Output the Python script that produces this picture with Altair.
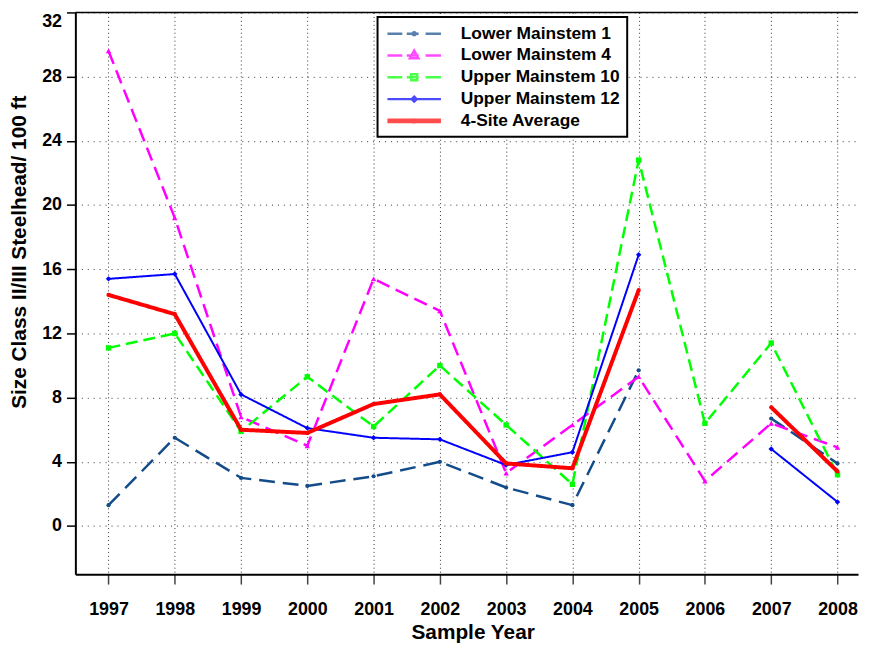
import altair as alt
import pandas as pd

years = list(range(1997, 2009))
series_names = ["Lower Mainstem 1", "Lower Mainstem 4", "Upper Mainstem 10",
                "Upper Mainstem 12", "4-Site Average"]
lower_mainstem_1 = [1.3, 5.5, 3.0, 2.5, 3.1, 4.0, 2.4, 1.3, 9.7, None, 6.7, 3.9]
lower_mainstem_4 = [29.6, 19.2, 6.8, 5.0, 15.4, 13.4, 3.3, 6.3, 9.3, 2.8, 6.4, 4.9]
upper_mainstem_10 = [11.1, 12.0, 5.9, 9.3, 6.2, 10.0, 6.3, 2.6, 22.8, 6.4, 11.4, 3.2]
upper_mainstem_12 = [15.4, 15.7, 8.2, 6.1, 5.5, 5.4, 3.8, 4.6, 16.9, None, 4.8, 1.5]
site_average = [14.4, 13.2, 6.0, 5.8, 7.6, 8.2, 3.9, 3.6, 14.7, None, 7.4, 3.4]
y_ticks = [0, 4, 8, 12, 16, 20, 24, 28, 32]

series_values = [lower_mainstem_1, lower_mainstem_4, upper_mainstem_10,
                 upper_mainstem_12, site_average]

colors = ["#134C88", "#FF00FF", "#00FF00", "#0000FF", "#FF0000"]
dashes = [[16, 8], [14, 7], [12, 6], [1, 0], [1, 0]]
widths = [2.5, 2.5, 2.5, 2, 4]
shapes = ["circle", "triangle-up", "square", "diamond", "circle"]
sizes = [18, 30, 30, 30, 18]

# legend symbol glyphs, drawn in pixel units around the symbol centre
SYM_PX = 17.0          # sqrt of the legend symbolSize
R = SYM_PX / 2.0       # Vega scales custom paths by sqrt(size)/2


def p(v):
    return f"{v / R:.4f}"


def dashed_line():
    segs = [(-27, -12), (-7.5, 4.5), (11.5, 27)]
    return "".join(f"M{p(a)},0H{p(b)}" for a, b in segs)


def dot(rad):
    return (f"M{p(-rad)},0A{p(rad)},{p(rad)} 0 1,0 {p(rad)},0"
            f"A{p(rad)},{p(rad)} 0 1,0 {p(-rad)},0")


legend_paths = [
    dashed_line() + dot(1.4),
    dashed_line() + f"M0,{p(-5)}L{p(4.3)},{p(2.7)}L{p(-4.3)},{p(2.7)}Z",
    dashed_line() + f"M{p(-3)},{p(-3)}H{p(3)}V{p(3)}H{p(-3)}Z",
    f"M{p(-27)},0H{p(27)}" + f"M0,{p(-2.5)}L{p(2.5)},0L0,{p(2.5)}L{p(-2.5)},0Z",
    f"M{p(-27)},{p(-1.1)}H{p(27)}M{p(-27)},{p(1.1)}H{p(27)}" + dot(1.4),
]

rows = []
for name, vals in zip(series_names, series_values):
    for yr, v in zip(years, vals):
        rows.append({"year": yr, "series": name, "value": v})
df = pd.DataFrame(rows)

FONT = "Liberation Sans"

x_enc = alt.X(
    "year:Q",
    scale=alt.Scale(domain=[1996.5, 2008.31], nice=False, zero=False),
    axis=alt.Axis(
        values=years, format="d", title="Sample Year",
        titleX=401, titleY=65, titleBaseline="alphabetic", titleAlign="center",
        grid=True, gridDash=[1, 3], gridColor="#333333", gridWidth=1,
        tickSize=10, tickColor="#444444", tickWidth=1.5,
        domainColor="black", domainWidth=2, labelPadding=17,
    ),
)
y_enc = alt.Y(
    "value:Q",
    scale=alt.Scale(domain=[-3, 32], nice=False, zero=False),
    axis=alt.Axis(
        values=y_ticks, title="Size Class II/III Steelhead/ 100 ft",
        titleX=-56, titleY=241.5, titleAngle=270, titleBaseline="middle",
        titleAlign="center", labelFlush=True,
        grid=True, gridDash=[1, 5], gridColor="#333333", gridWidth=1,
        tickSize=9, tickColor="black", tickWidth=1.5,
        domainColor="black", domainWidth=2, labelPadding=5,
    ),
)

layers = []
for i, name in enumerate(series_names):
    base = alt.Chart(df).transform_filter(alt.datum.series == name).encode(
        x=x_enc, y=y_enc,
    )
    layers.append(base.mark_line(color=colors[i], strokeDash=dashes[i],
                                 strokeWidth=widths[i],
                                 invalid="break-paths-show-domains"))
    layers.append(base.mark_point(color=colors[i], shape=shapes[i], filled=True,
                                  size=sizes[i], opacity=1,
                                  invalid="break-paths-show-domains"))

legend = alt.Legend(
    title=None, orient="none", legendX=305, legendY=4.5,
    symbolSize=SYM_PX * SYM_PX, symbolStrokeWidth=2.5, symbolOffset=20,
    labelFont=FONT, labelFontSize=17.5, labelFontWeight="bold", labelColor="black",
    labelOffset=37, labelLimit=400, padding=7, rowPadding=3, strokeColor="black",
    fillColor="white",
)
legend_layer = (
    alt.Chart(df).transform_filter("false")
    .mark_point(filled=False, strokeWidth=2.5)
    .encode(
        x=x_enc, y=y_enc,
        stroke=alt.Stroke("series:N", scale=alt.Scale(domain=series_names, range=colors),
                          legend=legend),
        shape=alt.Shape("series:N", scale=alt.Scale(domain=series_names, range=legend_paths),
                        legend=legend),
    )
)
layers.append(legend_layer)

# top frame line at the top of the value range
layers.append(
    alt.Chart(pd.DataFrame({"k": [0]}))
    .mark_rule(color="black", strokeWidth=1.5)
    .encode(y=alt.datum(y_ticks[-1]))
)

chart = (
    alt.layer(*layers)
    .properties(
        width=790, height=567,
        autosize=alt.AutoSizeParams(type="none"),
        padding={"left": 68, "top": 1.5, "right": 3, "bottom": 67.5},
    )
    .configure_view(stroke=None)
    .configure_axis(
        labelFont=FONT, labelFontSize=18, labelFontWeight="bold", labelColor="black",
        titleFont=FONT, titleFontSize=21, titleFontWeight="bold", titleColor="black",
    )
    .configure_legend(strokeWidth=2)
)

chart.save("out.html", embed_options={"renderer": "svg", "actions": False})
